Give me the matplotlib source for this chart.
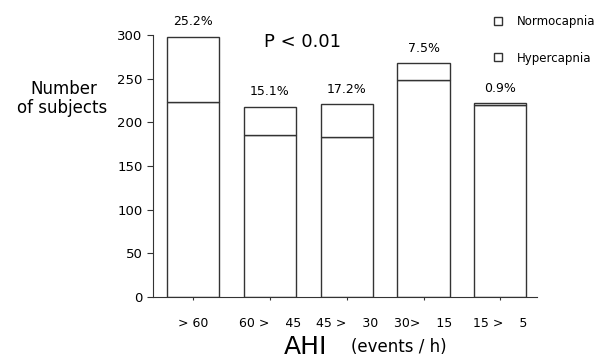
import matplotlib.pyplot as plt
from matplotlib.lines import Line2D

# datos
categorias = ['> 60', '60 >    45', '45 >    30', '30>    15', '15 >    5']
normocapnia = [223, 185, 183, 248, 220]
hipercapnia = [75, 33, 38, 20, 2]
porcentajes = ['25.2%', '15.1%', '17.2%', '7.5%', '0.9%']

fig = plt.figure(figsize=(6.05, 3.61), dpi=100)
ax = fig.add_axes([0.253, 0.177, 0.635, 0.726])

x = list(range(len(categorias)))
ec = '#333333'
ax.bar(x, normocapnia, width=0.68, color='white', edgecolor=ec, linewidth=1)
ax.bar(x, hipercapnia, width=0.68, bottom=normocapnia, color='white',
       edgecolor=ec, linewidth=1)

for i in x:
    total = normocapnia[i] + hipercapnia[i]
    ax.annotate(porcentajes[i], (i, total), xytext=(0, 6), textcoords='offset points',
                ha='center', va='bottom', fontsize=9)

ax.set_xlim(-0.52, 4.48)
ax.set_ylim(0, 300)
ax.set_yticks(range(0, 301, 50))
ax.set_xticks(x)
ax.set_xticklabels(categorias, fontsize=9)
ax.tick_params(axis='y', labelsize=9.5, length=4, color=ec)
ax.tick_params(axis='x', length=2, pad=12, color=ec)
for s in ['top', 'right']:
    ax.spines[s].set_visible(False)
for s in ['left', 'bottom']:
    ax.spines[s].set_color(ec)

ax.text(1.42, 292, 'P < 0.01', fontsize=13, ha='center', va='center')

fig.text(0.105, 0.753, 'Number', fontsize=12, ha='center', va='center')
fig.text(0.102, 0.70, 'of subjects', fontsize=12, ha='center', va='center')

fig.text(0.505, 0.038, 'AHI', fontsize=18, ha='center', va='center')
fig.text(0.66, 0.038, '(events / h)', fontsize=12, ha='center', va='center')

handles = [Line2D([], [], marker='s', color='none', markerfacecolor='white',
                  markeredgecolor=ec, markersize=6) for _ in range(2)]
fig.legend(handles, ['Normocapnia', 'Hypercapnia'], loc='upper left',
           bbox_to_anchor=(0.795, 0.988), frameon=False, fontsize=8.5,
           handletextpad=1.1, labelspacing=2.0, handlelength=1)

fig.savefig('out.png')
